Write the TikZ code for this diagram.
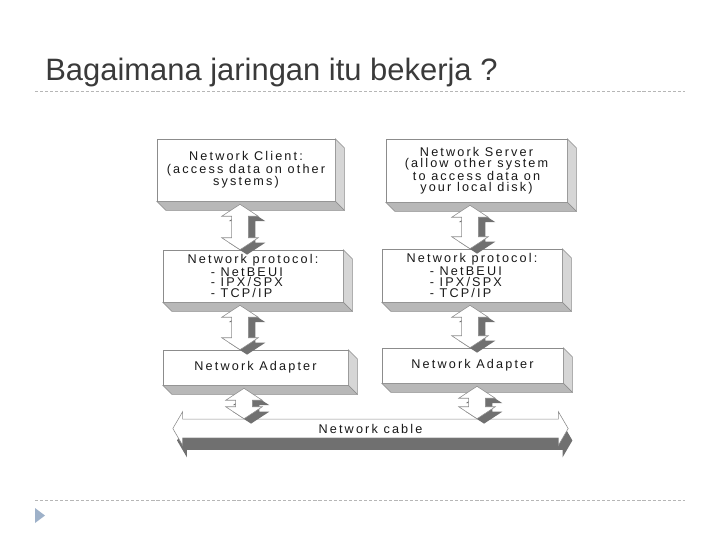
\documentclass[tikz,border=0pt]{standalone}
\usepackage{fontspec}
\setmainfont{Liberation Sans}
\newfontfamily\boxfont[LetterSpace=17]{Liberation Sans}
\usetikzlibrary{calc,backgrounds}
\definecolor{ttlc}{RGB}{58,58,58}
\definecolor{rulec}{RGB}{182,182,182}
\definecolor{tric}{RGB}{158,177,201}
\definecolor{edgegray}{RGB}{140,140,140}
\definecolor{sidegray}{RGB}{214,214,214}
\definecolor{basegray}{RGB}{184,184,184}
\definecolor{lnkgray}{RGB}{112,112,112}
\definecolor{inkc}{RGB}{25,25,25}

\newcommand\slab[1]{%
  \filldraw[facefill=sidegray] (#1.north east) -- ++(9,9) -- ($(#1.south east)+(9,9)$) -- (#1.south east) -- cycle;
  \filldraw[facefill=basegray] (#1.south west) -- (#1.south east) -- ++(9,9) -- ($(#1.south west)+(9,9)$) -- cycle;}
\newcommand\vshape[2]{(\x1+#1,\y1-#2) -- (\x1+13pt+#1,\y1-8.5pt-#2) -- (\x1+6pt+#1,\y1-8.5pt-#2)
  -- (\x1+6pt+#1,\y2+8.5pt-#2) -- (\x1+13pt+#1,\y2+8.5pt-#2) -- (\x1+#1,\y2-#2)
  -- (\x1-13pt+#1,\y2+8.5pt-#2) -- (\x1-6pt+#1,\y2+8.5pt-#2)
  -- (\x1-6pt+#1,\y1-8.5pt-#2) -- (\x1-13pt+#1,\y1-8.5pt-#2) -- cycle}
\newcommand\vlink[3]{%
  \fill[lnkgray] let \p1=($(#1.south)+(#3,3)$), \p2=(#2.north) in \vshape{5pt}{3.5pt};
  \filldraw[fill=white,draw=edgegray] let \p1=($(#1.south)+(#3,3)$), \p2=(#2.north) in \vshape{0pt}{0pt};}
\newcommand\cshape[2]{(\x1-7pt+#1,\y1-#2) -- (\x1+#1,\y1+12pt-#2) -- (\x1+#1,\y1+6.7pt-#2)
  -- (\x2+#1,\y1+6.7pt-#2) -- (\x2+#1,\y1+12pt-#2) -- (\x2+7pt+#1,\y1-#2)
  -- (\x2+#1,\y1-12pt-#2) -- (\x2+#1,\y1-6.7pt-#2) -- (\x1+#1,\y1-6.7pt-#2)
  -- (\x1+#1,\y1-12pt-#2) -- cycle}
\newcommand\itm[1]{\makebox[60pt][l]{- #1}}

\begin{document}
\begin{tikzpicture}[
    x=0.025cm, y=-0.025cm,
    facefill/.style={fill=#1,draw=edgegray,line width=0.4pt},
    blk/.style={rectangle,draw=edgegray,fill=white,inner sep=1pt,
                font=\boxfont\fontsize{9}{8.8}\selectfont,text=inkc,align=center},
    tight/.style={font=\boxfont\fontsize{9}{7.6}\selectfont},
    rule/.style={rulec,line width=0.6pt,dash pattern=on 2.2pt off 1.4pt}
  ]
  \useasboundingbox (0,0) rectangle (720,540);
  \node[anchor=base west,inner sep=0pt,text=ttlc,font=\fontsize{22}{26}\selectfont] (title) at (45,80) {Bagaimana jaringan itu bekerja ?};
  \draw[rule] (35,91) -- (685,91);
  \draw[rule] (35,500) -- (685,500);
  \fill[tric] (35,508) -- (45,515.5) -- (35,523) -- cycle;

  \node[blk,minimum width=4.45cm,minimum height=1.55cm]              (client) at (246,170)   {Network Client:\\(access data on other\\systems)};
  \node[blk,tight,minimum width=4.525cm,minimum height=1.575cm]      (server) at (476.5,170.5) {Network Server\\(allow other system\\to access data on\\your local disk)};
  \node[blk,tight,minimum width=4.5cm,minimum height=1.3cm]          (protL)  at (253,276)   {Network protocol:\\\itm{NetBEUI}\\\itm{IPX/SPX}\\\itm{TCP/IP}};
  \node[blk,tight,minimum width=4.5cm,minimum height=1.325cm]        (protR)  at (472,275.5) {Network protocol:\\\itm{NetBEUI}\\\itm{IPX/SPX}\\\itm{TCP/IP}};
  \node[blk,minimum width=4.625cm,minimum height=0.875cm]            (adL)    at (255.5,367.5) {Network Adapter};
  \node[blk,minimum width=4.525cm,minimum height=0.875cm]            (adR)    at (472.5,365.5) {Network Adapter};
  \node[inner sep=1pt,text=inkc,font=\boxfont\fontsize{9}{8.8}\selectfont,
        minimum width=9.375cm,minimum height=0.475cm]                (cable)  at (370.5,428.5) {Network cable};
  \foreach \b in {client,server,protL,protR,adL,adR} {\slab{\b}}

  \begin{scope}[on background layer]
    \fill[lnkgray] let \p1=(cable.west), \p2=(cable.east) in \cshape{3pt}{8.5pt};
    \filldraw[fill=white,draw=edgegray] let \p1=(cable.west), \p2=(cable.east) in \cshape{0pt}{0pt};
  \end{scope}

  \vlink{client}{protL}{-6}
  \vlink{server}{protR}{-6.5}
  \vlink{protL}{adL}{-13}
  \vlink{protR}{adR}{-2}
  \vlink{adL}{cable}{-11.5}
  \vlink{adR}{cable}{4.5}
\end{tikzpicture}
\end{document}
